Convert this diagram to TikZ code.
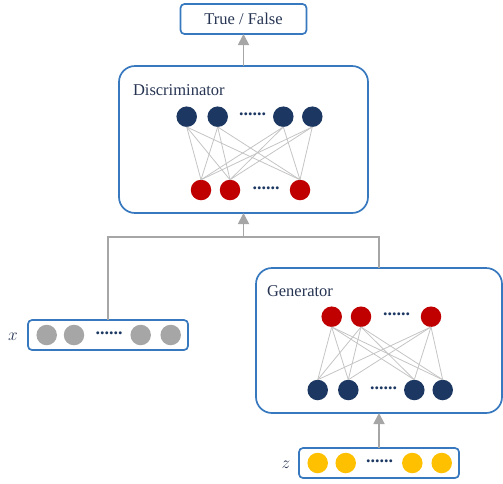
\documentclass[tikz,border=0pt]{standalone}
\usepackage{fontspec}
\setmainfont{Liberation Serif}
\usetikzlibrary{arrows.meta,calc}

\begin{document}
\begin{tikzpicture}
    [x=1pt, y=-1pt,
    inner sep=0pt, outer sep=0pt,%
    font=\fontsize{16.5}{20}\selectfont,
    box/.style={draw=boxblue,line width=1.7pt,rounded corners=#1},
    box/.default=4pt,
    unit/.style={circle,fill=#1,minimum size=20.5pt},
    link/.style={draw=linkgray,line width=1.8pt},
    %Option for the arrows
    flow/.style={link,-{Triangle[length=11pt,width=11pt]}},
    wire/.style={draw=wiregray,line width=0.8pt},
    dots/.style={text=navy,font=\fontsize{18}{20}\selectfont\bfseries}]

    % Colors

    \definecolor{boxblue}{RGB}{55,120,190}
    \definecolor{navy}{RGB}{28,56,98}
    \definecolor{darkred}{RGB}{192,0,0}
    \definecolor{linkgray}{RGB}{166,166,166}
    \definecolor{wiregray}{RGB}{196,196,196}
    \definecolor{gold}{RGB}{255,192,0}
    \definecolor{labeltext}{RGB}{38,52,82}

    \useasboundingbox (0,0) rectangle (503,483);

    % Boxes
    \node[box,minimum width=126pt,minimum height=30pt,text=labeltext] (tf) at (243.5,19) {True / False};
    \node[box=16pt,minimum width=249pt,minimum height=147pt] (disc) at (243.5,139.5) {};
    \node[box=16pt,minimum width=246pt,minimum height=145pt] (gen) at (379,340.5) {};
    \node[box,minimum width=160pt,minimum height=30pt] (xbox) at (108,335) {};
    \node[box,minimum width=160pt,minimum height=30pt] (zbox) at (379,463) {};

    \node[anchor=base west,text=labeltext] (disclabel) at (133,95) {Discriminator};
    \node[anchor=base west,text=labeltext] (genlabel) at (267,296) {Generator};
    \node[text=labeltext] (xlabel) at (13,337) {$x$};
    \node[text=labeltext] (zlabel) at (286,465) {$z$};

    % Discriminator layers
    \foreach \x [count=\i] in {186.7,217.7,283.3,312.3}
        \node[unit=navy] (dtop\i) at (\x,116.7) {};
    \foreach \x [count=\i] in {201,230,300}
        \node[unit=darkred] (dbot\i) at (\x,190) {};
    \node[dots] (ddots1) at (252.5,114.7) {......};
    \node[dots] (ddots2) at (266,188) {......};
    \foreach \i in {1,...,4}
        \foreach \j in {1,...,3}
            \draw[wire] (dtop\i.south) -- (dbot\j.north);

    % Generator layers
    \foreach \x [count=\i] in {331.7,361,431}
        \node[unit=darkred] (gtop\i) at (\x,316.7) {};
    \foreach \x [count=\i] in {317.7,348.3,414.3,442.7}
        \node[unit=navy] (gbot\i) at (\x,390) {};
    \node[dots] (gdots1) at (396.5,314.7) {......};
    \node[dots] (gdots2) at (383.5,388) {......};
    \foreach \i in {1,...,3}
        \foreach \j in {1,...,4}
            \draw[wire] (gtop\i.south) -- (gbot\j.north);

    % Inputs
    \foreach \x [count=\i] in {46.7,74,140.7,170.7}
        \node[unit=linkgray] (xin\i) at (\x,335) {};
    \node[dots] (xdots) at (109,333) {......};
    \foreach \x [count=\i] in {317.7,345.7,412.3,441.7}
        \node[unit=gold] (zin\i) at (\x,463) {};
    \node[dots] (zdots) at (379.5,461) {......};

    % Connectors
    \coordinate (merge) at (243.5,237);
    \draw[link] (xbox.north) |- (merge) -| (gen.north);
    \draw[flow] (merge) -- (disc.south);
    \draw[flow] (disc.north) -- (tf.south);
    \draw[flow] (zbox.north) -- (gen.south);

\end{tikzpicture}
\end{document}
